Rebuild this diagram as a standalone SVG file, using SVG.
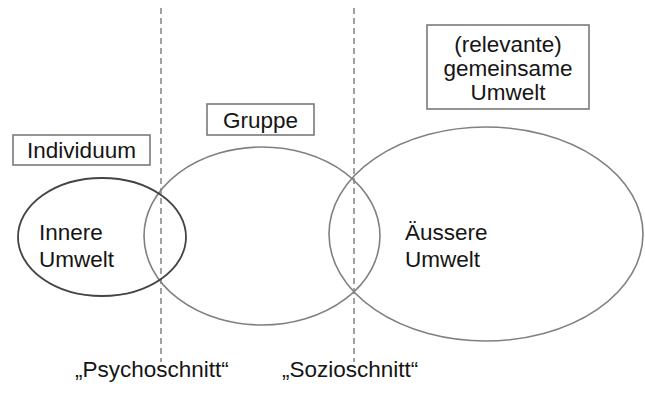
<svg xmlns="http://www.w3.org/2000/svg" width="645" height="396" viewBox="0 0 645 396">
  <style>
    .bg { fill: #ffffff; }
    .txt { font-family: "Liberation Sans", Arial, sans-serif; font-size: 22.5px; fill: #151515; }
    .mid { text-anchor: middle; }
    .box { fill: #ffffff; stroke: #7a7a7a; stroke-width: 1.6; }
    .ring { fill: none; stroke: #808080; stroke-width: 1.6; }
    .ring-dark { fill: none; stroke: #444444; stroke-width: 1.8; }
    .cut { stroke: #8a8a8a; stroke-width: 1.6; stroke-dasharray: 6 4; fill: none; }
  </style>
  <rect class="bg" x="0" y="0" width="645" height="396"/>

  <!-- cut lines -->
  <g id="connectors">
    <line class="cut" x1="161" y1="8" x2="161" y2="362"/>
    <line class="cut" x1="354" y1="8" x2="354" y2="362"/>
  </g>

  <!-- outer environment -->
  <g id="aussere-umwelt">
    <ellipse class="ring" cx="486" cy="234" rx="157" ry="107"/>
    <text class="txt" x="405" y="240">Äussere</text>
    <text class="txt" x="405" y="267">Umwelt</text>
  </g>

  <!-- group -->
  <g id="gruppe">
    <ellipse class="ring" cx="262" cy="236" rx="118" ry="89"/>
  </g>

  <!-- individual -->
  <g id="individuum">
    <ellipse class="ring-dark" cx="102" cy="237" rx="84" ry="59"/>
    <text class="txt" x="39" y="240">Innere</text>
    <text class="txt" x="39" y="267">Umwelt</text>
  </g>

  <!-- labels -->
  <g id="label-individuum">
    <rect class="box" x="13" y="135" width="137" height="30"/>
    <text class="txt mid" x="81.5" y="158">Individuum</text>
  </g>
  <g id="label-gruppe">
    <rect class="box" x="207" y="104" width="107" height="31"/>
    <text class="txt mid" x="260.5" y="128">Gruppe</text>
  </g>
  <g id="label-umwelt">
    <rect class="box" x="427" y="25" width="162" height="84"/>
    <text class="txt mid" x="508" y="52">(relevante)</text>
    <text class="txt mid" x="508" y="76">gemeinsame</text>
    <text class="txt mid" x="508" y="100">Umwelt</text>
  </g>

  <g id="label-psychoschnitt">
    <text class="txt" x="75" y="377">„Psychoschnitt“</text>
  </g>
  <g id="label-sozioschnitt">
    <text class="txt" x="282" y="377">„Sozioschnitt“</text>
  </g>
</svg>
